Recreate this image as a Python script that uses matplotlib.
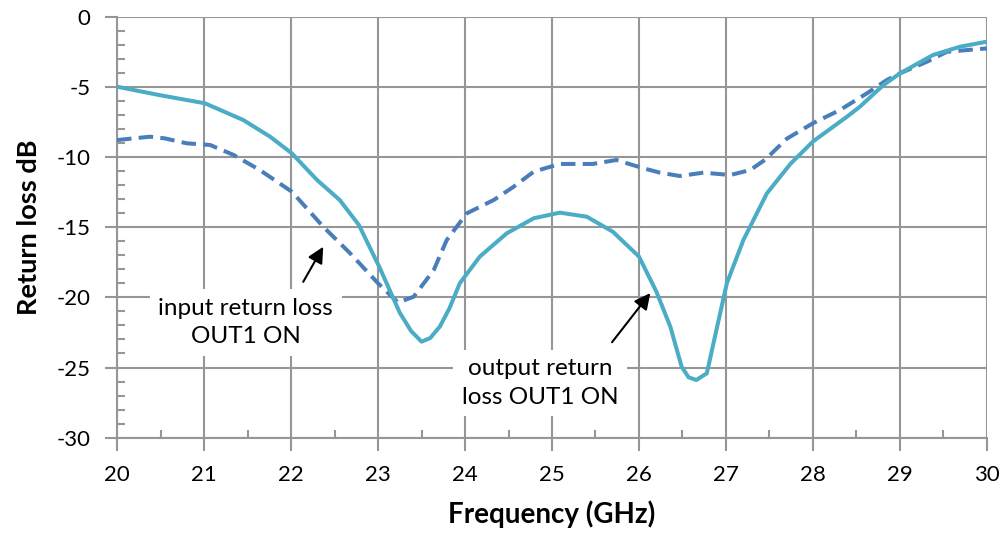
import matplotlib
matplotlib.use("Agg")
import matplotlib.pyplot as plt
from matplotlib.ticker import MultipleLocator

plt.rcParams['font.family'] = ['Lato', 'DejaVu Sans']

# Output return loss OUT1 ON (solid)
out_f = [20.0, 20.49, 21.01, 21.45, 21.76, 22.01, 22.30, 22.56, 22.78, 23.02, 23.25, 23.38,
         23.50, 23.60, 23.71, 23.82, 23.94, 24.17, 24.48, 24.79, 25.09, 25.40, 25.70, 26.0,
         26.20, 26.36, 26.49, 26.57, 26.66, 26.78, 26.89, 27.01, 27.20, 27.47, 27.74, 28.0,
         28.39, 28.54, 28.81, 29.0, 29.38, 29.69, 30.0]
out_rl = [-5.0, -5.6, -6.18, -7.37, -8.56, -9.75, -11.65, -13.07, -14.85, -17.9, -21.1, -22.4,
          -23.16, -22.9, -22.09, -20.8, -19.0, -17.1, -15.44, -14.37, -13.97, -14.26, -15.33,
          -17.1, -19.6, -22.09, -24.94, -25.7, -25.89, -25.41, -22.33, -19.0, -15.92, -12.6,
          -10.5, -8.9, -7.14, -6.42, -4.88, -4.05, -2.74, -2.15, -1.79]

# Input return loss OUT1 ON (dashed)
in_f = [20.0, 20.38, 20.55, 20.80, 21.07, 21.34, 21.64, 22.01, 22.37, 22.68, 23.0, 23.23,
        23.41, 23.64, 23.79, 24.02, 24.33, 24.56, 24.79, 25.09, 25.47, 25.74, 26.05, 26.24,
        26.47, 26.74, 27.05, 27.28, 27.45, 27.70, 28.0, 28.31, 28.62, 28.85, 29.0, 29.31,
        29.54, 29.77, 30.0]
in_rl = [-8.8, -8.56, -8.68, -9.03, -9.15, -9.86, -10.93, -12.48, -14.97, -16.87, -19.0,
         -20.37, -19.96, -18.06, -15.92, -14.02, -13.07, -12.12, -11.05, -10.5, -10.5, -10.22,
         -10.81, -11.12, -11.36, -11.12, -11.29, -10.93, -10.2, -8.7, -7.6, -6.66, -5.47,
         -4.52, -4.05, -3.22, -2.51, -2.39, -2.27]

x_ticks = [20, 21, 22, 23, 24, 25, 26, 27, 28, 29, 30]
y_ticks = [-30, -25, -20, -15, -10, -5, 0]

fig = plt.figure(figsize=(10.03, 5.33), dpi=100)
ax = fig.add_axes([0.1167, 0.1788, 0.8673, 0.7902])

ax.plot(in_f, in_rl, color='#4a7ebb', lw=2.9, ls=(0, (3.6, 1.8)), zorder=3,
        solid_joinstyle='round')
ax.plot(out_f, out_rl, color='#4bacc6', lw=2.9, zorder=4, solid_joinstyle='round')

ax.set_xlim(20, 30)
ax.set_ylim(-30, 0)
ax.set_xticks(x_ticks)
ax.set_yticks(y_ticks)
ax.set_yticklabels([str(v) for v in y_ticks])
ax.xaxis.set_minor_locator(MultipleLocator(0.5))
ax.yaxis.set_minor_locator(MultipleLocator(1))
ax.grid(True, which='major', color='#969696', lw=1.5)
for s in ax.spines.values():
    s.set_color('#969696')
    s.set_linewidth(1.5)
ax.spines['top'].set_visible(False)
ax.spines['right'].set_visible(False)
ax.tick_params(which='major', direction='out', length=9, width=1.5, color='#969696',
               labelsize=16)
ax.tick_params(axis='x', which='major', pad=11)
ax.tick_params(axis='y', which='major', pad=10)
ax.tick_params(which='minor', direction='in', length=6, width=1.5, color='#969696')
ax.set_xlabel('Frequency (GHz)', fontsize=20, fontweight='bold', labelpad=11)
ax.set_ylabel('Return loss dB', fontsize=19.5, fontweight='bold', labelpad=11)

bbox = dict(boxstyle='square,pad=0.35', fc='white', ec='none')
ax.text(21.48, -21.8, 'input return loss\nOUT1 ON', fontsize=17.5, ha='center',
        va='center', linespacing=1.45, bbox=bbox, zorder=5)
ax.text(24.86, -26.1, 'output return\nloss OUT1 ON', fontsize=17.5, ha='center',
        va='center', linespacing=1.45, bbox=bbox, zorder=5)
arrow = dict(arrowstyle='-|>', color='black', lw=1.5, mutation_scale=24, shrinkA=0, shrinkB=0)
ax.annotate('', xy=(22.37, -16.4), xytext=(22.14, -18.9), arrowprops=arrow, zorder=6)
ax.annotate('', xy=(26.13, -19.7), xytext=(25.69, -23.2), arrowprops=arrow, zorder=6)

fig.savefig('out.png', dpi=100)
